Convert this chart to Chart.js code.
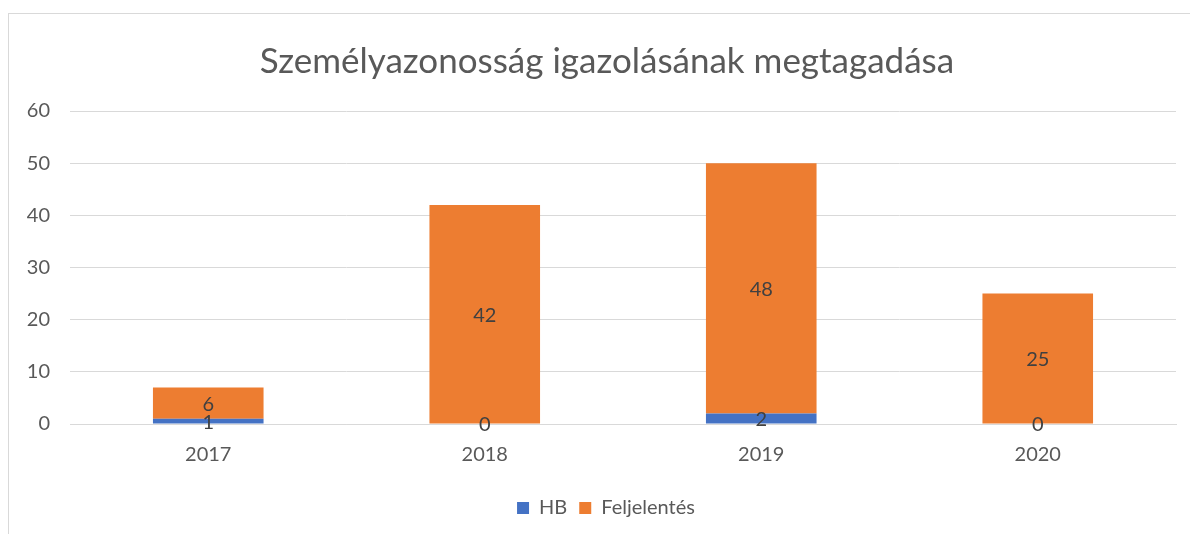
<!DOCTYPE html>
<html><head><meta charset="utf-8">
<script src="https://cdn.jsdelivr.net/npm/chart.js@4.4.0/dist/chart.umd.min.js"></script>
<style>
html,body{margin:0;padding:0;background:#fff;}
#wrap{position:relative;width:1190px;height:534px;overflow:hidden;}
#frame{position:absolute;left:8px;top:13px;width:1300px;height:600px;border-top:1px solid #d9d9d9;border-left:1px solid #d9d9d9;box-sizing:border-box;}
canvas{position:absolute;left:0;top:0;}
</style></head>
<body><div id="wrap"><div id="frame"></div><canvas id="c" width="1190" height="534"></canvas></div>
<script>
const categories = ['2017','2018','2019','2020'];
const hbValues = [1, 0, 2, 0];
const feljelentesValues = [6, 42, 48, 25];
const yTicks = [0, 10, 20, 30, 40, 50, 60];

const FONT = "Lato, 'Open Sans', sans-serif";
const TEXT = '#595959';

const labelPlugin = {
  id: 'segLabels',
  afterDatasetsDraw(chart) {
    const ctx = chart.ctx;
    ctx.save();
    ctx.font = '20px ' + FONT;
    ctx.fillStyle = '#404040';
    ctx.textAlign = 'center';
    ctx.textBaseline = 'middle';
    chart.data.datasets.forEach((ds, di) => {
      const meta = chart.getDatasetMeta(di);
      meta.data.forEach((el, i) => {
        const p = el.getProps(['x','y','base'], true);
        const yc = (p.y + p.base) / 2;
        ctx.fillText(String(ds.data[i]), p.x, yc + 1);
      });
    });
    ctx.restore();
  }
};

// shift the title and legend boxes so they are centred like the original
const shiftPlugin = {
  id: 'shiftBoxes',
  afterLayout(chart) {
    if (chart.titleBlock) chart.titleBlock.left = 38;
    if (chart.legend) chart.legend.left = 36;
  }
};

new Chart(document.getElementById('c'), {
  type: 'bar',
  data: {
    labels: categories,
    datasets: [
      { label: 'HB', data: hbValues, backgroundColor: '#4472C4' },
      { label: 'Feljelentés', data: feljelentesValues, backgroundColor: '#ED7D31' }
    ]
  },
  options: {
    responsive: false,
    animation: false,
    layout: { padding: { left: 0, right: 14, top: 0, bottom: 6 } },
    datasets: { bar: { categoryPercentage: 1.0, barPercentage: 0.4 } },
    scales: {
      x: {
        stacked: true,
        grid: { display: false, drawTicks: false },
        border: { color: '#d9d9d9', width: 1 },
        ticks: { color: TEXT, font: { family: FONT, size: 20 }, padding: 19 }
      },
      y: {
        stacked: true,
        min: 0, max: 60,
        afterBuildTicks(scale) { scale.ticks = yTicks.map(v => ({ value: v })); },
        afterFit(scale) { scale.width = 70; },
        grid: { color: '#d9d9d9', lineWidth: 1, drawTicks: false },
        border: { display: false },
        ticks: { color: TEXT, font: { family: FONT, size: 20 }, padding: 20 }
      }
    },
    plugins: {
      title: {
        display: true,
        text: 'Személyazonosság igazolásának megtagadása',
        color: TEXT,
        font: { family: FONT, size: 35, weight: 'normal' },
        padding: { top: 41, bottom: 28 }
      },
      legend: {
        position: 'bottom',
        labels: {
          color: TEXT,
          font: { family: FONT, size: 20 },
          boxWidth: 12, boxHeight: 12,
          padding: 12
        }
      },
      tooltip: { enabled: false }
    }
  },
  plugins: [labelPlugin, shiftPlugin]
});
</script></body></html>
